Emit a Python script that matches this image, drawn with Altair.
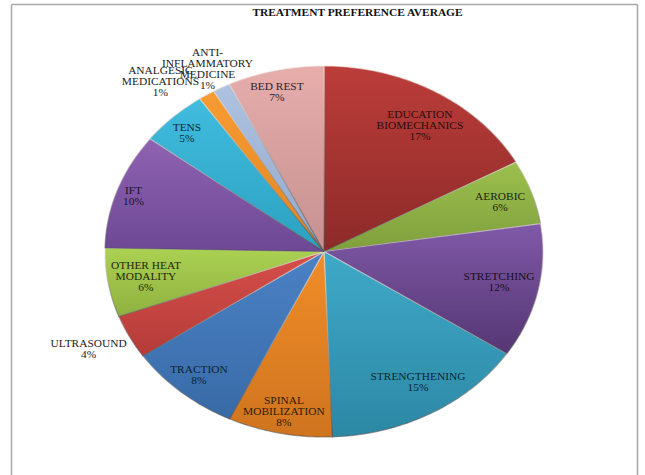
import math
import altair as alt
import pandas as pd

names = ["EDUCATION\nBIOMECHANICS", "AEROBIC", "STRETCHING", "STRENGTHENING",
         "SPINAL\nMOBILIZATION", "TRACTION", "ULTRASOUND", "OTHER HEAT\nMODALITY",
         "IFT", "TENS", "ANALGESIC\nMEDICATIONS", "ANTI-\nINFLAMMATORY\nMEDICINE", "BED REST"]
values = [17.0, 5.6, 11.7, 15.1, 7.7, 8.4, 3.8, 6.0, 10.1, 5.0, 1.2, 1.3, 7.1]

# Slice shading: colour at the top and at the bottom of each wedge
top_colors = ["#BC3D3A", "#9CC04E", "#8059A8", "#3FA9C8", "#F18D28", "#4B82C6", "#D64E4A",
              "#ABD152", "#8F63B2", "#40BCDE", "#F89B33", "#AEC2E0", "#E6ADAB"]
bottom_colors = ["#8C2A28", "#7F9F3C", "#553673", "#2C88A5", "#CF741F", "#386AA6", "#B53C39",
                 "#8FB140", "#6D4894", "#2CA1C1", "#E08520", "#93A9CC", "#C59190"]
text_colors = ["#2a0d0c", "#1d2510", "#170f22", "#0c2530", "#2e1c08", "#0e1f33", "#222222",
               "#20280f", "#1c1228", "#0c2a33", "#222222", "#222222", "#2e1f1f"]

# Anchors of each label's first line, as fractions of the horizontal and vertical radii
label_x = [0.438, 0.804, 0.799, 0.429, -0.183, -0.571, -1.075, -0.813, -0.870, -0.626, -0.747, -0.532, -0.215]
label_y = [0.736, 0.294, -0.136, -0.675, -0.806, -0.639, -0.499, -0.078, 0.328, 0.666, 0.973, 1.072, 0.888]

WIDTH, HEIGHT = 645, 475
CX, CY, RX, RY = 324, 251.5, 219, 185.5

# The same linear scales on both axes turn the unit circle into the flattened pie
x_scale = alt.Scale(domain=[-CX / RX, (WIDTH - CX) / RX], range=[0, WIDTH], nice=False, zero=False)
y_scale = alt.Scale(domain=[(CY - HEIGHT) / RY, CY / RY], range=[HEIGHT, 0], nice=False, zero=False)


def wedge_frame(start, size):
    """Outline of one wedge on the unit circle, clockwise from twelve o'clock."""
    steps = max(3, int(size * 3.6))
    rows = [{"px": 0.0, "py": 0.0, "pt": 0}]
    for k in range(steps + 1):
        a = 2 * math.pi * (start + size * k / steps) / sum(values)
        rows.append({"px": math.sin(a), "py": math.cos(a), "pt": k + 1})
    rows.append({"px": 0.0, "py": 0.0, "pt": steps + 2})
    return pd.DataFrame(rows)


def vertical(top, bottom):
    return alt.Gradient(gradient="linear", x1=0, y1=0, x2=0, y2=1,
                        stops=[alt.GradientStop(color=top, offset=0),
                               alt.GradientStop(color=bottom, offset=1)])


layers = []
running = 0.0
for value, top, bottom in zip(values, top_colors, bottom_colors):
    wedge = alt.Chart(wedge_frame(running, value)).mark_line(
        filled=True,
        fill=vertical(top, bottom),
        stroke=vertical("#f1e6e0", "#4a4a4a"),
        strokeWidth=1.2,
        strokeOpacity=0.55,
        strokeJoin="round",
    ).encode(
        x=alt.X("px:Q", scale=x_scale, axis=None),
        y=alt.Y("py:Q", scale=y_scale, axis=None),
        order="pt:Q",
    )
    layers.append(wedge)
    running += value

labels = pd.DataFrame({
    "text": [f"{n}\n{v:.0f}%" for n, v in zip(names, values)],
    "lx": label_x,
    "ly": label_y,
    "tone": text_colors,
})
label_layer = alt.Chart(labels).mark_text(
    font="Liberation Serif", fontSize=11.4, lineBreak="\n", lineHeight=11.2,
    align="center", baseline="middle",
).encode(
    x=alt.X("lx:Q", scale=x_scale, axis=None),
    y=alt.Y("ly:Q", scale=y_scale, axis=None),
    text="text:N",
    color=alt.Color("tone:N", scale=None),
)

title_layer = alt.Chart(pd.DataFrame({"t": ["TREATMENT PREFERENCE AVERAGE"]})).mark_text(
    font="Liberation Serif", fontSize=11.4, fontWeight="bold", color="#111111",
    align="center", baseline="middle",
).encode(x=alt.value(357.5), y=alt.value(12.5), text="t:N")

# Chart border: the bottom edge falls outside the frame
border_color = "#a9a9a9"
left_edge = alt.Chart(pd.DataFrame({"k": [0]})).mark_rule(color=border_color, strokeWidth=1.5).encode(
    x=alt.value(11.5), y=alt.value(4.5), y2=alt.value(475))
right_edge = alt.Chart(pd.DataFrame({"k": [0]})).mark_rule(color=border_color, strokeWidth=1.5).encode(
    x=alt.value(637.5), y=alt.value(4.5), y2=alt.value(475))
top_edge = alt.Chart(pd.DataFrame({"k": [0]})).mark_rule(color=border_color, strokeWidth=1.5).encode(
    x=alt.value(11.5), x2=alt.value(637.5), y=alt.value(4.5))

chart = alt.layer(left_edge, right_edge, top_edge, *layers, label_layer, title_layer).properties(
    width=WIDTH, height=HEIGHT, padding=0,
    autosize=alt.AutoSizeParams(type="none"),
    background="white",
).configure_view(stroke=None)

chart.save("out.html", embed_options={"renderer": "svg", "actions": False})
